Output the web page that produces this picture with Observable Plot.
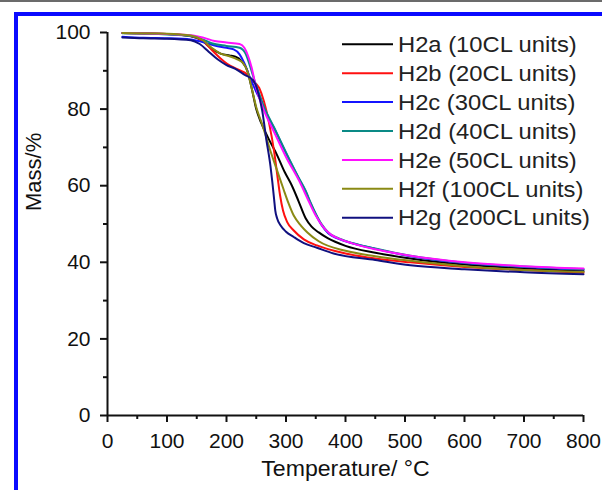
<!DOCTYPE html>
<html><head><meta charset="utf-8">
<script src="https://cdn.jsdelivr.net/npm/d3@7"></script>
<script src="https://cdn.jsdelivr.net/npm/@observablehq/plot@0.6"></script>
<style>
html,body{margin:0;padding:0;background:#fff;}
#wrap{position:relative;width:602px;height:490px;overflow:hidden;font-family:"Liberation Sans",Arial,sans-serif;background:#fff;}
#topbar{position:absolute;left:0;top:0;width:602px;height:2px;background:#6b6b6b;}
#bluetop{position:absolute;left:14px;top:12px;width:588px;height:4px;background:#0a0aff;}
#blueleft{position:absolute;left:14px;top:12px;width:4px;height:478px;background:#0a0aff;}
#chart,#legend{position:absolute;left:0;top:0;}
</style></head><body>
<div id="wrap"><div id="topbar"></div><div id="bluetop"></div><div id="blueleft"></div><div id="chart"></div><svg id="legend" width="602" height="490"></svg></div>
<script>
// ---- data (Temperature °C, Mass %) ----
const seriesNames = ["H2a (10CL units)","H2b (20CL units)","H2c (30CL units)","H2d (40CL units)","H2e (50CL units)","H2f (100CL units)","H2g (200CL units)"];
const seriesColors = ["#000000","#ff1010","#1414ff","#0a8a86","#ff10ff","#8a8a14","#10107f"];

const H2a = [[25,99.9],[100,99.6],[140,99],[160,97.8],[175,95.8],[190,94.5],[205,94],[215,93.7],[225,92.6],[235,90],[243,85],[250,80],[258,76.5],[270,72.5],[285,68],[298,63.5],[310,60],[321,56],[333,51.5],[343,49.3],[355,47.8],[370,46.3],[400,44.3],[450,42.5],[509,41],[600,39.4],[700,38.4],[800,37.7]];
const H2b = [[25,99.9],[100,99.6],[140,99.1],[160,97.8],[175,95.5],[190,93.2],[201,91.8],[220,90.3],[235,89],[243,87.5],[255,85.5],[263,82],[272,76],[280,69],[286,62],[290,57.5],[295,53.5],[302,50.5],[313,48.3],[330,46],[352,44.4],[400,42.3],[450,41],[509,40],[600,38.8],[700,38],[800,37.3]];
const H2c = [[25,98.9],[60,98.6],[100,98.5],[140,98.2],[160,97.5],[180,96.6],[200,96],[212,95.6],[222,94.3],[230,92],[240,88],[250,84.5],[258,82],[265,79.5],[280,75],[300,68.5],[320,62.3],[333,58.5],[341,55.5],[350,52.5],[360,49.7],[371,47.6],[385,46.3],[400,45.5],[450,43.5],[509,41.6],[600,39.8],[700,38.8],[800,38.1]];
const H2d = [[25,99.8],[100,99.5],[140,99.1],[160,98.2],[175,97.2],[200,96.5],[222,96],[232,94.5],[240,91],[248,87],[255,84],[262,81],[280,75.2],[300,68.7],[320,62.5],[333,58.7],[341,55.7],[350,52.7],[360,49.9],[371,47.8],[385,46.5],[400,45.6],[450,43.6],[509,41.7],[600,39.9],[700,38.9],[800,38.2]];
const H2e = [[25,99.9],[100,99.6],[140,99.3],[160,98.7],[180,97.8],[200,97.4],[222,97],[230,96],[236,94],[242,91],[250,85.5],[257,82],[263,79.6],[280,74],[300,67.5],[323,61],[338,56],[350,52.2],[362,49.3],[375,47.3],[390,46.1],[410,45],[450,43.4],[509,41.7],[600,40],[700,39],[800,38.4]];
const H2f = [[25,99.9],[100,99.7],[140,99.2],[160,98],[175,96],[190,94.5],[205,93.8],[218,93],[228,92],[236,89.5],[243,85],[250,80.5],[260,76],[274,69],[285,64],[296,59],[304,55.5],[313,52.2],[325,49.6],[336,47.8],[355,45.5],[400,43],[450,41.6],[509,40.4],[600,39],[700,38],[800,37.5]];
const H2g = [[25,98.7],[60,98.5],[100,98.4],[140,98],[155,97],[170,95],[185,93],[200,91.5],[215,90.5],[230,89],[245,87.5],[252,85],[260,79.6],[267,72],[274,65],[277,61],[280,56.5],[282,53.5],[285,51.5],[291,49.6],[300,48],[313,46.6],[330,45],[352,43.8],[380,42.3],[450,40.6],[509,39.2],[600,38.2],[700,37.4],[800,36.9]];

const xTicks = [0,100,200,300,400,500,600,700,800];
const xMinor = [50,150,250,350,450,550,650,750];
const yTicks = [0,20,40,60,80,100];
const yMinor = [10,30,50,70,90];
const xLabel = "Temperature/ °C";
const yLabel = "Mass/%";

const allSeries = [H2a,H2b,H2c,H2d,H2e,H2f,H2g];
const rows = allSeries.flatMap((s, i) => s.map(([t, m]) => ({name: seriesNames[i], t, m})));

const FONT = '"Liberation Sans", Arial, sans-serif';
const chart = Plot.plot({
  width: 602, height: 490,
  marginLeft: 107, marginRight: 19, marginTop: 32, marginBottom: 75,
  style: {fontFamily: FONT, fontSize: "21px", color: "#111", background: "transparent", overflow: "visible"},
  x: {domain: [0, 800]},
  y: {domain: [0, 100]},
  color: {domain: seriesNames, range: seriesColors},
  marks: [
    Plot.axisX({ticks: xTicks, tickSize: 7, tickPadding: 11, tickFormat: d => String(d), strokeWidth: 2, label: null}),
    Plot.axisX({ticks: xMinor, tickSize: 4, text: null, strokeWidth: 2, label: null}),
    Plot.axisY({ticks: yTicks, tickSize: 7, tickPadding: 10, tickFormat: d => String(d), strokeWidth: 2, label: null}),
    Plot.axisY({ticks: yMinor, tickSize: 4, text: null, strokeWidth: 2, label: null}),
    Plot.line(rows, {x: "t", y: "m", z: "name", stroke: "name", strokeWidth: 2, curve: "monotone-x"}),
    Plot.ruleY([0], {strokeWidth: 2}),
    Plot.ruleX([0], {strokeWidth: 2}),
    Plot.text([xLabel], {text: d => d, frameAnchor: "bottom", dy: 60, fontSize: 22, className: "xtitle"}),
    Plot.text([yLabel], {text: d => d, frameAnchor: "left", rotate: -90, dx: -74, dy: -13, fontSize: 22})
  ]
});
document.getElementById("chart").appendChild(chart);

// slight horizontal widening of titles to match the reference's lettering
function stretch(sel, k) {
  d3.selectAll(sel).each(function() {
    const w = this.getComputedTextLength();
    this.setAttribute("textLength", w * k);
    this.setAttribute("lengthAdjust", "spacingAndGlyphs");
  });
}
stretch("#chart .xtitle text", 1.05);

// legend
const lg = d3.select("#legend");
const lx0 = 342, lx1 = 393, ly0 = 44.3, lstep = 28.9;
seriesNames.forEach((n, i) => {
  const y = ly0 + i * lstep;
  lg.append("line").attr("x1", lx0).attr("x2", lx1).attr("y1", y).attr("y2", y)
    .attr("stroke", seriesColors[i]).attr("stroke-width", 2);
  lg.append("text").attr("x", lx1 + 5).attr("y", y).attr("dy", "0.35em")
    .attr("font-family", FONT).attr("font-size", 22).attr("fill", "#222").text(n);
});
stretch("#legend text", 1.08);
</script>
</body></html>
